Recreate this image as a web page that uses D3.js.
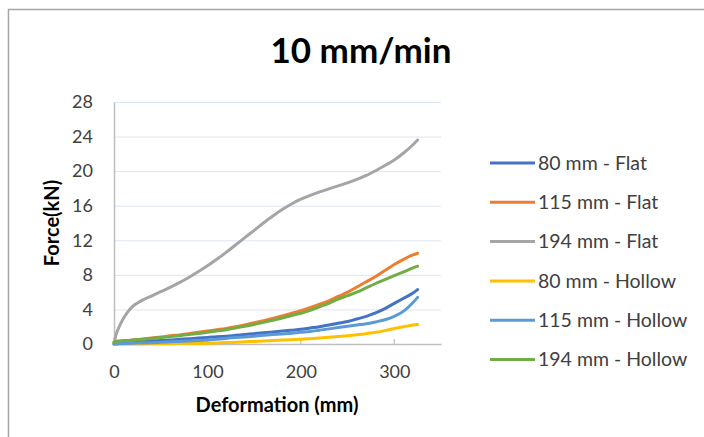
<!DOCTYPE html>
<html>
<head>
<meta charset="utf-8">
<script src="https://cdn.jsdelivr.net/npm/d3@7/dist/d3.min.js"></script>
<style>
  html, body { margin: 0; padding: 0; background: #fff; }
  svg { display: block; font-family: Lato, "Open Sans", sans-serif; }
</style>
</head>
<body>
<svg id="chart" width="704" height="437"></svg>
<script>
// ---- data ----
const title = "10 mm/min";
const xLabel = "Deformation (mm)";
const yLabel = "Force(kN)";
const xTicks = [0, 100, 200, 300];
const yTicks = [0, 4, 8, 12, 16, 20, 24, 28];
const deformation = [0, 2, 5, 10, 15, 20, 30, 40, 50, 60, 70, 80, 90, 100, 110, 120, 130, 140, 150, 160, 170, 180, 190, 200, 210, 220, 230, 240, 250, 260, 270, 280, 290, 300, 310, 320, 325];
const seriesNames = ["80 mm - Flat", "115 mm - Flat", "194 mm - Flat", "80 mm - Hollow", "115 mm - Hollow", "194 mm - Hollow"];
const seriesColors = ["#4472C4", "#ED7D31", "#A5A5A5", "#FFC000", "#5B9BD5", "#70AD47"];
const flat80 = [0, 0.05, 0.1, 0.15, 0.2, 0.25, 0.3, 0.35, 0.4, 0.45, 0.55, 0.6, 0.7, 0.75, 0.85, 0.9, 1.0, 1.1, 1.2, 1.3, 1.4, 1.5, 1.6, 1.7, 1.85, 2.0, 2.2, 2.4, 2.6, 2.9, 3.2, 3.6, 4.1, 4.7, 5.3, 5.9, 6.3];
const flat115 = [0.2, 0.3, 0.3, 0.35, 0.4, 0.45, 0.55, 0.7, 0.8, 0.95, 1.05, 1.2, 1.35, 1.5, 1.65, 1.8, 2.0, 2.2, 2.45, 2.7, 2.95, 3.25, 3.55, 3.85, 4.2, 4.6, 5.0, 5.5, 6.0, 6.6, 7.2, 7.8, 8.5, 9.2, 9.8, 10.3, 10.5];
const flat194 = [0, 1.0, 1.85, 2.95, 3.75, 4.35, 5.05, 5.55, 6.05, 6.55, 7.1, 7.7, 8.35, 9.05, 9.8, 10.6, 11.45, 12.3, 13.15, 14.0, 14.8, 15.55, 16.2, 16.75, 17.2, 17.6, 17.95, 18.3, 18.65, 19.05, 19.5, 20.05, 20.65, 21.3, 22.1, 23.05, 23.6];
const hollow80 = [0, 0, 0, 0, 0, 0, 0.01, 0.02, 0.03, 0.04, 0.05, 0.06, 0.07, 0.09, 0.12, 0.16, 0.2, 0.25, 0.3, 0.35, 0.4, 0.45, 0.5, 0.55, 0.62, 0.7, 0.78, 0.86, 0.96, 1.06, 1.2, 1.35, 1.55, 1.8, 2.0, 2.2, 2.25];
const hollow115 = [0, 0, 0.02, 0.05, 0.07, 0.1, 0.12, 0.15, 0.2, 0.25, 0.3, 0.35, 0.4, 0.45, 0.55, 0.65, 0.75, 0.8, 0.9, 1.0, 1.1, 1.15, 1.25, 1.35, 1.45, 1.6, 1.75, 1.9, 2.05, 2.2, 2.35, 2.55, 2.8, 3.2, 3.8, 4.8, 5.4];
const hollow194 = [0.2, 0.3, 0.35, 0.4, 0.4, 0.45, 0.55, 0.65, 0.75, 0.85, 0.95, 1.1, 1.2, 1.35, 1.5, 1.65, 1.85, 2.05, 2.25, 2.5, 2.75, 3.0, 3.3, 3.55, 3.9, 4.3, 4.7, 5.2, 5.6, 6.0, 6.5, 7.0, 7.45, 7.9, 8.35, 8.8, 9.0];
const seriesValues = [flat80, flat115, flat194, hollow80, hollow115, hollow194];

// ---- layout ----
const svg = d3.select("#chart");
const plot = { left: 114, right: 441, top: 102, bottom: 344 };
const x = d3.scaleLinear().domain([0, 350]).range([plot.left, plot.right]);
const y = d3.scaleLinear().domain([0, 28]).range([plot.bottom, plot.top]);

// outer frame
svg.append("path")
  .attr("d", "M8.5,437 L8.5,9.5 L704,9.5")
  .attr("fill", "none").attr("stroke", "#a6a6a6").attr("stroke-width", 1.5);

// title
svg.append("text").attr("x", 361).attr("y", 63)
  .attr("text-anchor", "middle").attr("font-weight", "bold")
  .attr("font-size", 35).attr("fill", "#000").text(title);

// gridlines
svg.append("g").selectAll("line").data(yTicks.filter(d => d > 0)).join("line")
  .attr("x1", plot.left).attr("x2", plot.right)
  .attr("y1", d => y(d) + 0.5).attr("y2", d => y(d) + 0.5)
  .attr("stroke", "#dde6f4").attr("stroke-width", 1);

// y axis
const yAxis = svg.append("g").attr("transform", `translate(${plot.left},0)`)
  .call(d3.axisLeft(y).tickValues(yTicks).tickSize(0).tickPadding(21));
yAxis.select(".domain").attr("stroke", "#bfbfbf").attr("stroke-width", 1.5);
yAxis.selectAll("text").attr("font-size", 18).attr("fill", "#404040")
  .attr("font-family", "Lato, sans-serif");

// x axis
const xAxis = svg.append("g").attr("transform", `translate(0,${plot.bottom})`)
  .call(d3.axisBottom(x).tickValues(xTicks).tickSize(0).tickPadding(21));
xAxis.select(".domain").attr("stroke", "#bfbfbf").attr("stroke-width", 1.5);
xAxis.selectAll("text").attr("font-size", 18).attr("fill", "#404040")
  .attr("font-family", "Lato, sans-serif");
svg.append("g").selectAll("line").data(xTicks.filter(d => d > 0)).join("line")
  .attr("x1", d => x(d)).attr("x2", d => x(d))
  .attr("y1", plot.bottom).attr("y2", plot.bottom - 5)
  .attr("stroke", "#bfbfbf").attr("stroke-width", 1.2);

// axis titles
svg.append("text").attr("transform", "translate(59,223) rotate(-90)")
  .attr("text-anchor", "middle").attr("font-weight", "bold").attr("font-size", 20)
  .attr("fill", "#000").text(yLabel);
svg.append("text").attr("x", 277).attr("y", 412)
  .attr("text-anchor", "middle").attr("font-weight", "bold").attr("font-size", 20)
  .attr("fill", "#000").text(xLabel);

// lines
const line = d3.line().x(d => x(d[0])).y(d => y(d[1])).curve(d3.curveMonotoneX);
const drawOrder = [0, 1, 2, 3, 4, 5];
svg.append("g").selectAll("path").data(drawOrder).join("path")
  .attr("d", i => line(deformation.map((d, k) => [d, seriesValues[i][k]])))
  .attr("fill", "none").attr("stroke", i => seriesColors[i])
  .attr("stroke-width", 3).attr("stroke-linejoin", "round").attr("stroke-linecap", "round");

// legend
const leg = svg.append("g").selectAll("g").data(seriesNames).join("g")
  .attr("transform", (d, i) => `translate(490,${163 + i * 39.3})`);
leg.append("line").attr("x1", 0).attr("x2", 45).attr("y1", 0).attr("y2", 0)
  .attr("stroke", (d, i) => seriesColors[i]).attr("stroke-width", 3);
leg.append("text").attr("x", 48).attr("y", 0).attr("dy", "0.35em")
  .attr("font-size", 19.5).attr("fill", "#404040").text(d => d);
</script>
</body>
</html>
